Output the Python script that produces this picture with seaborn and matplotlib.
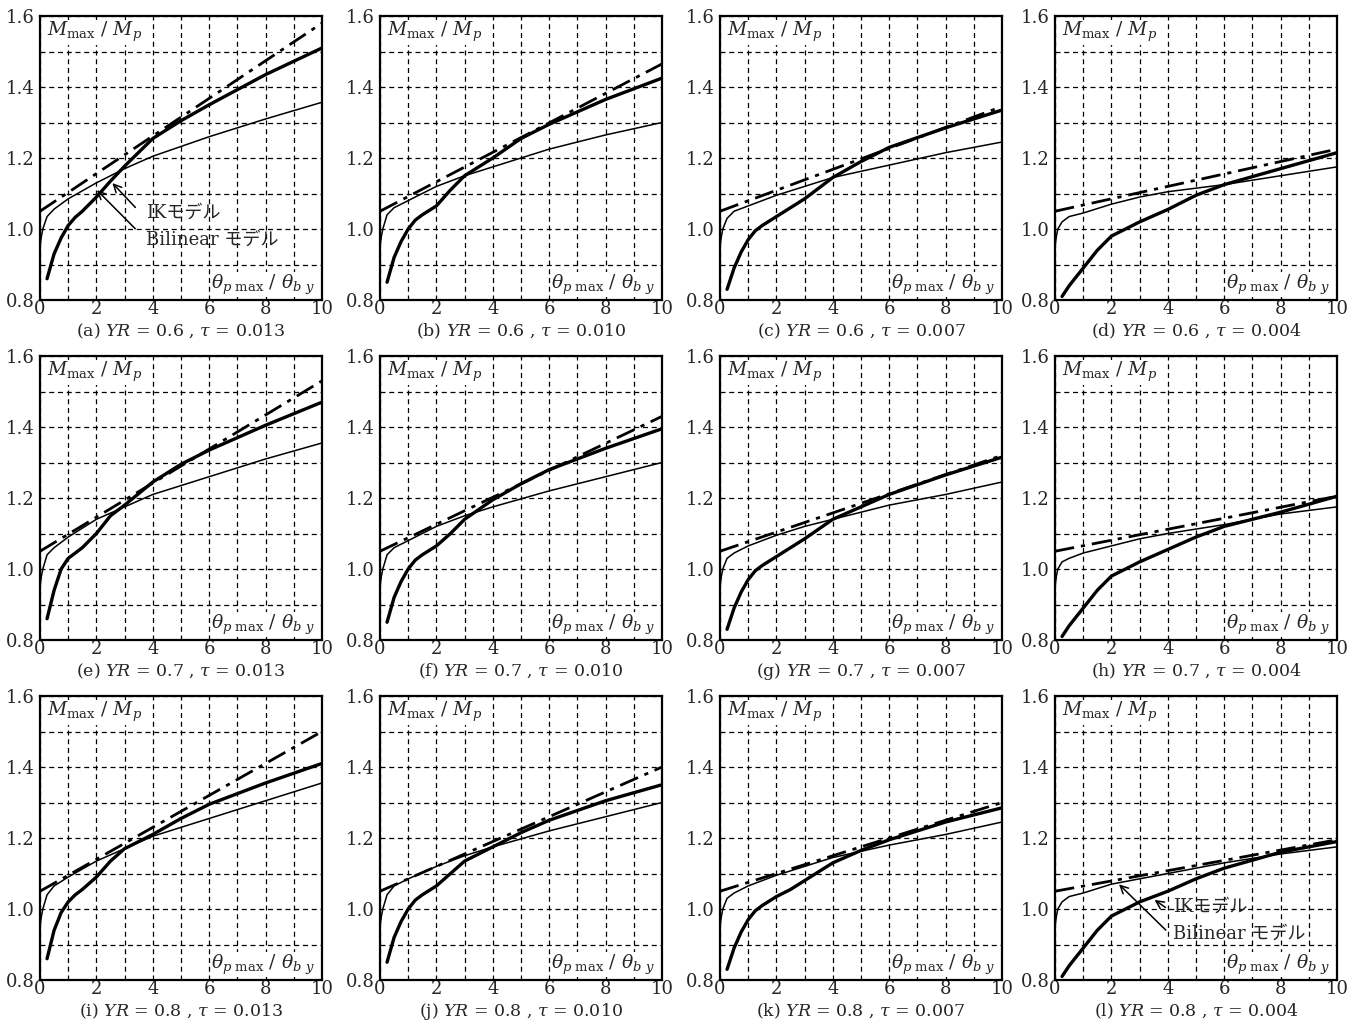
import numpy as np
import pandas as pd
import matplotlib
matplotlib.use('Agg')
import matplotlib.pyplot as plt
import seaborn as sns

# x positions (theta_p max / theta_b y)
THIN_X = [0, 0.05, 0.1, 0.25, 0.5, 1, 2, 3, 4, 6, 8, 10]
THICK_X = [0.25, 0.5, 0.75, 1, 1.25, 1.5, 2, 2.5, 3, 4, 5, 6, 8, 10]
LINE_X = [0, 10]

# panel captions
LETTERS = ['a', 'b', 'c', 'd', 'e', 'f', 'g', 'h', 'i', 'j', 'k', 'l']
YR = ['0.6', '0.6', '0.6', '0.6', '0.7', '0.7', '0.7', '0.7', '0.8', '0.8', '0.8', '0.8']
TAU = ['0.013', '0.010', '0.007', '0.004'] * 3

# thin line (Bilinear model), one list per panel
thin_a = [0.95, 0.98, 1.00, 1.035, 1.056, 1.085, 1.13, 1.17, 1.205, 1.26, 1.31, 1.357]
thin_b = [0.95, 0.98, 1.00, 1.04, 1.06, 1.08, 1.12, 1.15, 1.175, 1.225, 1.265, 1.30]
thin_c = [0.95, 0.98, 1.00, 1.03, 1.05, 1.065, 1.095, 1.12, 1.145, 1.18, 1.215, 1.245]
thin_d = [0.95, 0.98, 1.00, 1.02, 1.035, 1.045, 1.07, 1.09, 1.105, 1.125, 1.15, 1.175]
thin_e = [0.95, 0.98, 1.00, 1.04, 1.06, 1.09, 1.14, 1.175, 1.21, 1.26, 1.31, 1.355]
thin_f = [0.95, 0.98, 1.00, 1.04, 1.06, 1.08, 1.12, 1.15, 1.175, 1.22, 1.26, 1.30]
thin_g = [0.95, 0.98, 1.00, 1.03, 1.045, 1.065, 1.095, 1.12, 1.14, 1.18, 1.21, 1.245]
thin_h = [0.95, 0.98, 1.00, 1.02, 1.03, 1.045, 1.065, 1.085, 1.10, 1.125, 1.155, 1.175]
thin_i = [0.95, 0.98, 1.00, 1.04, 1.065, 1.09, 1.135, 1.17, 1.205, 1.255, 1.305, 1.355]
thin_j = [0.95, 0.98, 1.00, 1.04, 1.065, 1.085, 1.12, 1.15, 1.175, 1.22, 1.26, 1.30]
thin_k = [0.95, 0.98, 1.00, 1.03, 1.045, 1.065, 1.095, 1.12, 1.145, 1.18, 1.21, 1.245]
thin_l = [0.95, 0.98, 1.00, 1.02, 1.035, 1.045, 1.07, 1.085, 1.10, 1.13, 1.155, 1.175]

# thick line (IK model)
thick_a = [0.86, 0.93, 0.975, 1.01, 1.033, 1.05, 1.09, 1.135, 1.177, 1.255, 1.305, 1.35, 1.435, 1.51]
thick_b = [0.85, 0.92, 0.965, 1.00, 1.025, 1.04, 1.065, 1.11, 1.15, 1.20, 1.255, 1.295, 1.365, 1.425]
thick_c = [0.83, 0.89, 0.935, 0.97, 0.995, 1.01, 1.035, 1.06, 1.085, 1.145, 1.19, 1.23, 1.285, 1.335]
thick_d = [0.81, 0.84, 0.865, 0.89, 0.915, 0.94, 0.98, 1.00, 1.02, 1.055, 1.095, 1.125, 1.17, 1.215]
thick_e = [0.86, 0.94, 1.00, 1.03, 1.045, 1.06, 1.10, 1.15, 1.18, 1.245, 1.295, 1.335, 1.405, 1.47]
thick_f = [0.85, 0.92, 0.965, 1.00, 1.025, 1.04, 1.065, 1.10, 1.14, 1.195, 1.24, 1.28, 1.34, 1.395]
thick_g = [0.83, 0.89, 0.935, 0.97, 0.995, 1.01, 1.035, 1.06, 1.085, 1.14, 1.175, 1.21, 1.265, 1.315]
thick_h = [0.81, 0.84, 0.865, 0.89, 0.915, 0.94, 0.98, 1.00, 1.02, 1.055, 1.09, 1.12, 1.16, 1.205]
thick_i = [0.86, 0.94, 0.99, 1.02, 1.04, 1.055, 1.09, 1.135, 1.17, 1.21, 1.255, 1.295, 1.355, 1.41]
thick_j = [0.85, 0.92, 0.965, 1.00, 1.025, 1.04, 1.065, 1.10, 1.135, 1.175, 1.215, 1.25, 1.305, 1.35]
thick_k = [0.83, 0.89, 0.935, 0.97, 0.995, 1.01, 1.035, 1.055, 1.08, 1.13, 1.165, 1.195, 1.245, 1.285]
thick_l = [0.81, 0.84, 0.865, 0.89, 0.915, 0.94, 0.98, 1.00, 1.02, 1.05, 1.085, 1.115, 1.16, 1.19]

# dash-dot straight line: value at x=0 and at x=10
line_start = [1.05] * 12
line_end = [1.58, 1.465, 1.345, 1.225, 1.53, 1.43, 1.32, 1.205, 1.50, 1.40, 1.30, 1.195]

THIN = [thin_a, thin_b, thin_c, thin_d, thin_e, thin_f, thin_g, thin_h, thin_i, thin_j, thin_k, thin_l]
THICK = [thick_a, thick_b, thick_c, thick_d, thick_e, thick_f, thick_g, thick_h, thick_i, thick_j, thick_k, thick_l]

sns.set_style('white')
plt.rcParams['font.family'] = ['DejaVu Serif', 'Noto Sans CJK JP']
plt.rcParams['mathtext.fontset'] = 'dejavuserif'

W, H = 1363, 1031
fig = plt.figure(figsize=(W / 100, H / 100), dpi=100)

lefts = [40, 380, 720, 1055]
tops = [16, 356, 696]
aw, ah = 282, 284

JP = ['DejaVu Serif', 'Noto Sans CJK JP']

axes = []
for i in range(12):
    r, c = divmod(i, 4)
    ax = fig.add_axes([lefts[c] / W, (H - tops[r] - ah) / H, aw / W, ah / H])
    axes.append(ax)

    sns.lineplot(x=THIN_X, y=THIN[i], ax=ax, color='black', lw=1.1,
                 sort=False, estimator=None)
    sns.lineplot(x=THICK_X, y=THICK[i], ax=ax, color='black', lw=2.4,
                 sort=False, estimator=None)
    sns.lineplot(x=LINE_X, y=[line_start[i], line_end[i]], ax=ax, color='black',
                 lw=2.0, sort=False, estimator=None)
    ax.lines[-1].set_linestyle((0, (7, 2.5, 1.5, 2.5)))

    ax.set_xlim(0, 10)
    ax.set_ylim(0.8, 1.6)
    ax.set_xticks([0, 2, 4, 6, 8, 10])
    ax.set_yticks([0.8, 1.0, 1.2, 1.4, 1.6])
    ax.set_yticklabels(['0.8', '1.0', '1.2', '1.4', '1.6'])
    ax.set_xticks(np.arange(1, 10), minor=True)
    ax.set_yticks([0.9, 1.1, 1.3, 1.5], minor=True)
    ax.tick_params(which='both', length=0, labelsize=13)
    ax.tick_params(axis='x', pad=0)
    ax.tick_params(axis='y', pad=4)
    ax.grid(which='both', color='black', linestyle=(0, (4, 3)), lw=0.9)
    for s in ax.spines.values():
        s.set_color('black')
        s.set_linewidth(1.6)
    ax.set_xlabel('')
    ax.set_ylabel('')

    ax.text(0.025, 0.985, r'$M_{\rm max}\ /\ M_p$', transform=ax.transAxes,
            ha='left', va='top', fontsize=13.5,
            bbox=dict(facecolor='white', edgecolor='none', pad=0.5))
    ax.text(0.975, 0.012, r'$\theta_{p\ \rm max}\ /\ \theta_{b\ y}$', transform=ax.transAxes,
            ha='right', va='bottom', fontsize=13.5,
            bbox=dict(facecolor='white', edgecolor='none', pad=0.5))
    ax.text(0.5, -0.112, '(' + LETTERS[i] + ') $\\it{YR}$ = ' + YR[i] + ' , $\\tau$ = ' + TAU[i],
            transform=ax.transAxes, ha='center', va='center', fontsize=12.5)

# annotations in panels (a) and (l)
arrow = dict(arrowstyle='->', color='black', lw=1.1, mutation_scale=14)
ax = axes[0]
ax.text(3.75, 1.045, 'IKモデル', fontsize=13, family=JP, va='center', ha='left')
ax.text(3.75, 0.97, 'Bilinear モデル', fontsize=13, family=JP, va='center', ha='left')
ax.annotate('', xy=(2.5, 1.135), xytext=(3.45, 1.055), arrowprops=arrow)
ax.annotate('', xy=(1.95, 1.115), xytext=(3.45, 0.995), arrowprops=arrow)

ax = axes[11]
ax.text(4.2, 1.006, 'IKモデル', fontsize=13, family=JP, va='center', ha='left')
ax.text(4.2, 0.93, 'Bilinear モデル', fontsize=13, family=JP, va='center', ha='left')
ax.annotate('', xy=(3.45, 1.03), xytext=(4.0, 1.0), arrowprops=arrow)
ax.annotate('', xy=(2.2, 1.075), xytext=(4.0, 0.935), arrowprops=arrow)

fig.savefig('out.png', dpi=100, facecolor='white')
